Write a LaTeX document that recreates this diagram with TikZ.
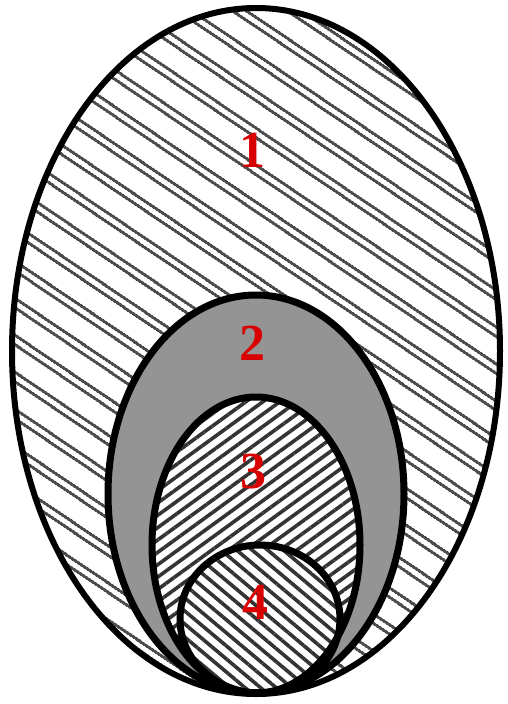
\documentclass[tikz,border=0pt]{standalone}
\usepackage{fontspec}
\setmainfont{Liberation Serif}
\usetikzlibrary{patterns.meta}

\begin{document}
\begin{tikzpicture}[x=1pt,y=-1pt,
  rim/.style={draw=black, line width=6pt},
  numlabel/.style={text=red!85!black, font=\fontsize{52}{52}\selectfont\bfseries, inner sep=0pt},
  widehatch/.style={pattern={Lines[angle=-34,distance=30pt,line width=3pt]}, pattern color=black!70}]
\useasboundingbox (0,0) rectangle (507,704);
\fill[white] (0,0) rectangle (507,704);
% zone 1, outer shell
\fill[white] (256,351) ellipse [x radius=244, y radius=343];
\fill[widehatch] (256,351) ellipse [x radius=244, y radius=343];
\fill[widehatch, pattern={Lines[angle=-34,distance=30pt,yshift=9.5pt,line width=3pt]}]
  (256,351) ellipse [x radius=244, y radius=343];
% zone 2, grey
\fill[black!42] (256,494) ellipse [x radius=148, y radius=199];
% zone 3
\fill[white] (256,545) ellipse [x radius=104, y radius=148];
\fill[pattern={Lines[angle=36,distance=10pt,line width=3.6pt]}, pattern color=black!80]
  (256,545) ellipse [x radius=104, y radius=148];
% zone 4
\fill[white] (260,619) ellipse [x radius=80, y radius=74];
\fill[pattern={Lines[angle=-40,distance=10pt,line width=3.6pt]}, pattern color=black!80]
  (260,619) ellipse [x radius=80, y radius=74];
% outlines
\draw[rim] (256,351) ellipse [x radius=244, y radius=343];
\draw[rim, line width=7pt] (256,494) ellipse [x radius=148, y radius=199];
\draw[rim, line width=7pt] (256,545) ellipse [x radius=104, y radius=148];
\draw[rim, line width=7pt] (260,619) ellipse [x radius=80, y radius=74];
% numbers
\node[numlabel] (one) at (252,150) {1};
\node[numlabel] (two) at (252,343) {2};
\node[numlabel] (three) at (253,472) {3};
\node[numlabel] (four) at (255,602) {4};
\end{tikzpicture}
\end{document}
